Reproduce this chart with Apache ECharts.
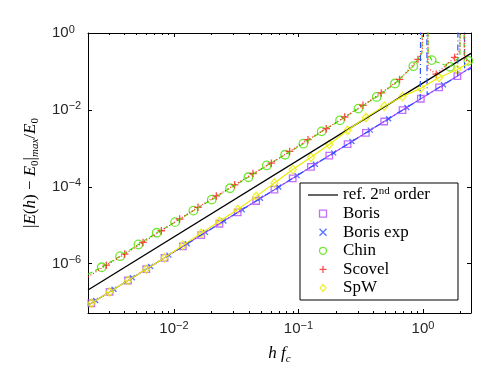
<!DOCTYPE html>
<html>
<head>
<meta charset="utf-8">
<script src="https://cdn.jsdelivr.net/npm/echarts@6/dist/echarts.min.js"></script>
<style>
html, body { margin: 0; padding: 0; background: #fff; }
#chart { width: 491px; height: 369px; }
</style>
</head>
<body>
<div id="chart"></div>
<script>
var dom = document.getElementById('chart');
var myChart = echarts.init(dom);

// axis ranges and ticks
var xMin = 0.00204, xMax = 2.43;
var yMin = 5.2e-8, yMax = 1;
var xMajorTicks = [0.01, 0.1, 1];
var xMinorTicks = [0.003, 0.004, 0.005, 0.006, 0.007, 0.008, 0.009,
    0.02, 0.03, 0.04, 0.05, 0.06, 0.07, 0.08, 0.09,
    0.2, 0.3, 0.4, 0.5, 0.6, 0.7, 0.8, 0.9, 2];
var yTicks = [1e-6, 1e-4, 1e-2, 1];

// reference slope line
var refH = [0.00204, 2.43];
var refE = [2.07e-7, 0.295];

// Boris (markers)
var borisH = [0.00217, 0.00304, 0.00427, 0.00599, 0.00840, 0.01179, 0.01654, 0.0232, 0.0325, 0.0457, 0.0641,
    0.0899, 0.1260, 0.1768, 0.2480, 0.348, 0.488, 0.685, 0.961, 1.347, 1.890];
var borisE = [9.33e-8, 1.84e-7, 3.64e-7, 7.19e-7, 1.42e-6, 2.80e-6, 5.53e-6, 1.09e-5, 2.16e-5, 4.26e-5, 8.41e-5,
    1.66e-4, 3.28e-4, 6.48e-4, 1.28e-3, 2.53e-3, 4.99e-3, 9.85e-3, 1.95e-2, 3.84e-2, 7.59e-2];
var borisLineH = [0.00204, 2.43];
var borisLineE = [8.3e-8, 0.13];

// Boris exp
var bexpH = [0.002352, 0.00330, 0.00463, 0.00649, 0.00911, 0.01278, 0.01793, 0.02515, 0.03528, 0.04948,
    0.0694, 0.0974, 0.1366, 0.1916, 0.2688, 0.3771, 0.529, 0.742, 1.460];
var bexpE = [1.096e-7, 2.165e-7, 4.28e-7, 8.44e-7, 1.667e-6, 3.29e-6, 6.50e-6, 1.284e-5, 2.535e-5, 5.01e-5,
    9.89e-5, 1.952e-4, 3.855e-4, 7.61e-4, 1.503e-3, 2.969e-3, 5.86e-3, 1.157e-2, 4.51e-2];
var bexpLineH = [0.00204, 0.95, 0.96, 1.07, 1.08, 1.9, 1.915, 2.15, 2.16, 2.43];
var bexpLineE = [8.3e-8, 0.019, 10, 10, 0.0246, 0.076, 10, 10, 0.099, 0.12];

// Chin
var chinH = [0.00263, 0.00369, 0.00518, 0.00727, 0.01021, 0.01432, 0.0201, 0.0282, 0.0396, 0.0556, 0.078,
    0.1094, 0.1536, 0.2156, 0.3025, 0.4246, 0.5958, 0.8363, 1.174, 1.647, 2.312];
var chinE = [8.05e-7, 1.56e-6, 3.16e-6, 6.37e-6, 1.20e-5, 2.39e-5, 4.63e-5, 9.14e-5, 1.77e-4, 3.58e-4, 6.81e-4,
    1.32e-3, 2.76e-3, 5.35e-3, 1.08e-2, 2.17e-2, 4.86e-2, 0.137, 0.197, 0.132, 0.189];
var chinLineH = [0.00204, 0.98, 0.99, 1.09, 1.10, 1.98, 1.99, 2.13, 2.14, 2.43];
var chinLineE = [5.3e-7, 0.3, 10, 10, 0.3, 0.25, 10, 10, 0.25, 0.2];

// Scovel
var scovelH = [0.00286, 0.00402, 0.00564, 0.00792, 0.01111, 0.01560, 0.02189, 0.03073, 0.04312, 0.06052,
    0.0849, 0.1192, 0.1673, 0.2348, 0.3295, 0.4624, 0.649, 0.911, 1.278, 1.794];
var scovelE = [9.14e-7, 1.77e-6, 3.56e-6, 7.18e-6, 1.45e-5, 2.92e-5, 5.78e-5, 1.12e-4, 2.21e-4, 4.11e-4,
    8.30e-4, 1.68e-3, 3.25e-3, 6.53e-3, 1.32e-2, 2.76e-2, 6.18e-2, 0.206, 0.0851, 0.232];
var scovelLineH = [0.00204, 0.99, 1.0, 1.09, 1.10, 1.98, 1.99, 2.15, 2.16, 2.43];
var scovelLineE = [4.5e-7, 0.35, 10, 10, 0.12, 0.35, 10, 10, 0.2, 0.17];

// SpW
var spwH = [0.00217, 0.00304, 0.00427, 0.00599, 0.00840, 0.01179, 0.01654, 0.0232, 0.0325, 0.0457, 0.0641,
    0.0899, 0.1260, 0.1768, 0.2480, 0.348, 0.488, 0.685, 0.961, 1.347, 1.890];
var spwE = [9.33e-8, 1.84e-7, 3.64e-7, 7.19e-7, 1.42e-6, 3.02e-6, 6.17e-6, 1.26e-5, 2.57e-5, 5.62e-5, 1.26e-4,
    2.82e-4, 5.82e-4, 1.26e-3, 2.95e-3, 6.31e-3, 1.245e-2, 2.24e-2, 3.63e-2, 6.97e-2, 0.112];
var spwLineH = [0.00204, 2.43];
var spwLineE = [8.3e-8, 0.178];

var cBoris = '#b04cff', cBexp = '#2a52ff', cChin = '#4fe000', cScovel = '#ff1f1f', cSpw = '#ecec00';
var plusPath = 'path://M0,5L10,5M5,0L5,10';
var crossPath = 'path://M0,0L10,10M10,0L0,10';
var squarePath = 'path://M0,0L10,0L10,10L0,10Z';
var diamondPath = 'path://M5,0L10,6L5,12L0,6Z';
var refIcon = 'path://M0,0L30,0L30,1.2L0,1.2Z';

function pairs(h, e) {
    var out = [];
    for (var i = 0; i < h.length; i++) out.push([h[i], e[i]]);
    return out;
}
function lineData(h, e, h2, e2) {
    var pts = pairs(h, e).concat(pairs(h2, e2));
    pts.sort(function (a, b) { return a[0] - b[0]; });
    return pts;
}
function powLabel(v) {
    var e = Math.round(Math.log10(v));
    return '10{sup|' + (e < 0 ? '\u2212' + (-e) : e) + '}';
}

var labelFont = {
    fontFamily: 'Liberation Sans', fontSize: 15, color: '#262626', lineHeight: 18,
    rich: { sup: { fontFamily: 'Liberation Sans', fontSize: 11, color: '#262626', verticalAlign: 'top', lineHeight: 10 } }
};
var serif = 'Liberation Serif';
var nameRich = {
    i: { fontFamily: serif, fontStyle: 'italic', fontSize: 17, color: '#000' },
    s: { fontFamily: serif, fontSize: 11, color: '#000', verticalAlign: 'bottom', lineHeight: 11 },
    si: { fontFamily: serif, fontStyle: 'italic', fontSize: 11, color: '#000', verticalAlign: 'bottom', lineHeight: 11 }
};

function logAxis(pos, ticks, len, showLine, extra) {
    var isY = pos === 'left' || pos === 'right';
    var a = {
        type: 'log', min: isY ? yMin : xMin, max: isY ? yMax : xMax,
        position: pos, gridIndex: 0,
        axisLine: { show: showLine, lineStyle: { color: '#000', width: 1 } },
        axisTick: { show: true, inside: true, length: len, customValues: ticks, lineStyle: { color: '#000', width: 1 } },
        axisLabel: { show: false },
        splitLine: { show: false },
        minorTick: { show: false },
        minorSplitLine: { show: false }
    };
    for (var k in extra) a[k] = extra[k];
    return a;
}

var lineSeries = function (name, h, e, h2, e2, color, type) {
    return {
        name: name, type: 'line', data: lineData(h, e, h2, e2), symbol: 'none', silent: true,
        lineStyle: { color: color, width: 1.2, type: type }, itemStyle: { color: color }
    };
};
var markSeries = function (name, h, e, color, symbol, size) {
    return {
        name: name, type: 'scatter', data: pairs(h, e), symbol: symbol, symbolSize: size, silent: true,
        itemStyle: { color: 'rgba(0,0,0,0)', borderColor: color, borderWidth: 1.3 }
    };
};

option = {
    backgroundColor: '#fff',
    animation: false,
    grid: { left: 88, right: 20, top: 33, bottom: 56, containLabel: false, outerBoundsMode: 'none' },
    legend: {
        orient: 'vertical', left: 300, top: 183,
        data: [
            { name: 'ref. 2nd order', icon: refIcon, itemStyle: { color: '#000', borderWidth: 0 } },
            'Boris', 'Boris exp', 'Chin', 'Scovel', 'SpW'
        ],
        backgroundColor: '#fff', borderColor: '#000', borderWidth: 1, borderRadius: 0,
        padding: [3, 28, 3, 8], itemGap: 0.6, itemWidth: 30, itemHeight: 7,
        itemStyle: { borderWidth: 1.3 },
        symbolKeepAspect: true,
        formatter: function (name) { return name === 'ref. 2nd order' ? 'ref. 2{sup|nd} order' : name; },
        textStyle: {
            fontFamily: serif, fontSize: 17, color: '#000', lineHeight: 18,
            rich: { sup: { fontFamily: serif, fontSize: 11, color: '#000', verticalAlign: 'top', lineHeight: 10 } }
        }
    },
    xAxis: [
        logAxis('bottom', xMajorTicks, 4, true, {
            axisLabel: {
                show: true, customValues: xMajorTicks, formatter: powLabel, margin: 7,
                fontFamily: labelFont.fontFamily, fontSize: labelFont.fontSize, color: labelFont.color,
                lineHeight: labelFont.lineHeight, rich: labelFont.rich
            },
            name: '{i|h} {i|f}{si|c}', nameLocation: 'middle', nameGap: 23,
            nameTextStyle: { fontFamily: serif, fontSize: 17, color: '#000', lineHeight: 22, rich: nameRich }
        }),
        logAxis('bottom', xMinorTicks, 2, false, {}),
        logAxis('top', xMajorTicks, 4, true, {}),
        logAxis('top', xMinorTicks, 2, false, {})
    ],
    yAxis: [
        logAxis('left', yTicks, 4, true, {
            axisLabel: {
                show: true, customValues: yTicks, formatter: powLabel, margin: 36, align: 'left',
                fontFamily: labelFont.fontFamily, fontSize: labelFont.fontSize, color: labelFont.color,
                lineHeight: labelFont.lineHeight, rich: labelFont.rich
            },
            name: '|{i|E}({i|h}) \u2212 {i|E}{s|0}|{si|max}/{i|E}{s|0}', nameLocation: 'middle', nameGap: 38,
            nameRotate: 90,
            nameTextStyle: { fontFamily: serif, fontSize: 17, color: '#000', lineHeight: 22, rich: nameRich }
        }),
        logAxis('right', yTicks, 4, true, {})
    ],
    series: [
        {
            name: 'ref. 2nd order', type: 'line', data: pairs(refH, refE), symbol: 'none', silent: true,
            lineStyle: { color: '#000', width: 1.3 }, itemStyle: { color: '#000' }
        },
        lineSeries('Boris line', borisH, borisE, borisLineH, borisLineE, cBoris, 'solid'),
        markSeries('Boris', borisH, borisE, cBoris, squarePath, 6.5),
        lineSeries('Boris exp line', bexpH, bexpE, bexpLineH, bexpLineE, cBexp, [6, 3, 1, 3]),
        markSeries('Boris exp', bexpH, bexpE, cBexp, crossPath, 5),
        lineSeries('Chin line', chinH, chinE, chinLineH, chinLineE, cChin, [5, 3]),
        markSeries('Chin', chinH, chinE, cChin, 'circle', 8.5),
        lineSeries('Scovel line', scovelH, scovelE, scovelLineH, scovelLineE, cScovel, [1, 2]),
        markSeries('Scovel', scovelH, scovelE, cScovel, plusPath, 7.5),
        lineSeries('SpW line', spwH, spwE, spwLineH, spwLineE, cSpw, 'solid'),
        markSeries('SpW', spwH, spwE, cSpw, diamondPath, [7, 8.5])
    ]
};

if (option && typeof option === 'object') {
    myChart.setOption(option, true);
}
</script>
</body>
</html>
